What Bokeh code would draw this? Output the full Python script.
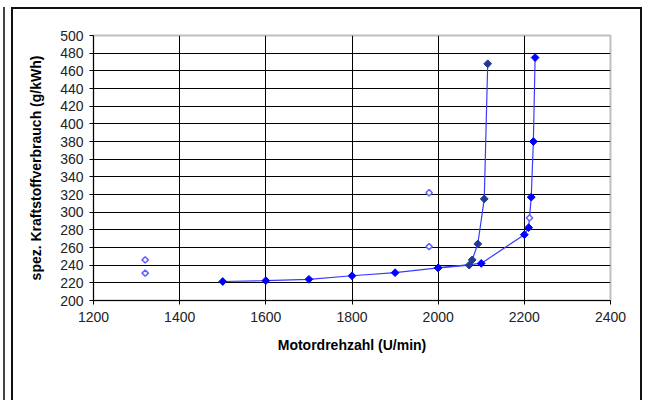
import math
from bokeh.plotting import figure
from bokeh.layouts import column
from bokeh.models import Range1d, FixedTicker
from bokeh.embed import file_html
from bokeh.resources import INLINE

# Series A (navy markers): steep branch ending near 2115 U/min
rpm_a = [2000, 2072, 2079, 2092, 2107, 2115]
be_a = [237, 240, 246, 264, 315, 468]

# Series B (blue markers)
rpm_b = [1500, 1600, 1700, 1800, 1900, 2000, 2100, 2200, 2210, 2216, 2221, 2225]
be_b = [221.5, 222.5, 224, 228, 231.5, 237, 242, 274.5, 282.5, 317, 380, 475]

# Single open points
rpm_c = [1320, 1320, 1979, 1979, 2212]
be_c = [246, 231, 322, 261, 293.5]

x_ticks = [1200, 1400, 1600, 1800, 2000, 2200, 2400]
y_ticks = list(range(200, 501, 20))

FONT = "Liberation Sans"

p = figure(width=627, height=391, output_backend="svg", toolbar_location=None,
           x_range=Range1d(1200, 2400), y_range=Range1d(200, 500),
           min_border_left=80, min_border_right=30, min_border_top=26, min_border_bottom=100)
p.background_fill_color = "white"
p.border_fill_color = "white"
p.outline_line_color = "#c0c0c0"
p.outline_line_width = 2

p.xaxis.ticker = FixedTicker(ticks=x_ticks)
p.yaxis.ticker = FixedTicker(ticks=y_ticks)
for ax in (p.xaxis[0], p.yaxis[0]):
    ax.axis_line_color = "black"
    ax.axis_line_width = 1
    ax.major_tick_line_color = "black"
    ax.major_tick_in = 0
    ax.major_tick_out = 4
    ax.minor_tick_line_color = None
    ax.major_label_text_font = FONT
    ax.major_label_text_font_size = "14px"
    ax.major_label_text_color = "#222222"
    ax.axis_label_text_font = FONT
    ax.axis_label_text_font_size = "14px"
    ax.axis_label_text_font_style = "bold"
    ax.axis_label_text_color = "black"

p.xaxis.axis_label = "Motordrehzahl (U/min)"
p.yaxis.axis_label = "spez. Kraftstoffverbrauch (g/kWh)"
p.xaxis.major_label_standoff = 7
p.yaxis.major_label_standoff = 6
p.xaxis.axis_label_standoff = 12
p.yaxis.axis_label_standoff = 13

p.xgrid.ticker = FixedTicker(ticks=x_ticks)
p.ygrid.ticker = FixedTicker(ticks=y_ticks)
p.xgrid.grid_line_color = "black"
p.ygrid.grid_line_color = "black"
p.xgrid.grid_line_width = 1
p.ygrid.grid_line_width = 1

line_col = "#3a3aff"
p.line(rpm_a, be_a, line_color=line_col, line_width=1.2)
p.line(rpm_b, be_b, line_color=line_col, line_width=1.2)

p.scatter(rpm_a, be_a, marker="square", size=5.5, angle=math.pi / 4,
          fill_color="#1f3a93", line_color="#1f3a93")
p.scatter(rpm_b, be_b, marker="square", size=5.5, angle=math.pi / 4,
          fill_color="#0000ff", line_color="#0000ff")
p.scatter(rpm_c, be_c, marker="square", size=4.5, angle=math.pi / 4,
          fill_color="white", line_color="#6060ff", line_width=1.5)

inner = column(p, styles={"border-left": "2px solid #111111", "border-top": "2px solid #111111",
                          "border-right": "2px solid #111111",
                          "margin-left": "6px", "margin-top": "0px"})
outer = column(inner, styles={"border-left": "2px solid #444444", "margin-left": "3px",
                              "margin-top": "7px", "padding-left": "0px"})

open("out.html", "w").write(file_html(outer, INLINE))
